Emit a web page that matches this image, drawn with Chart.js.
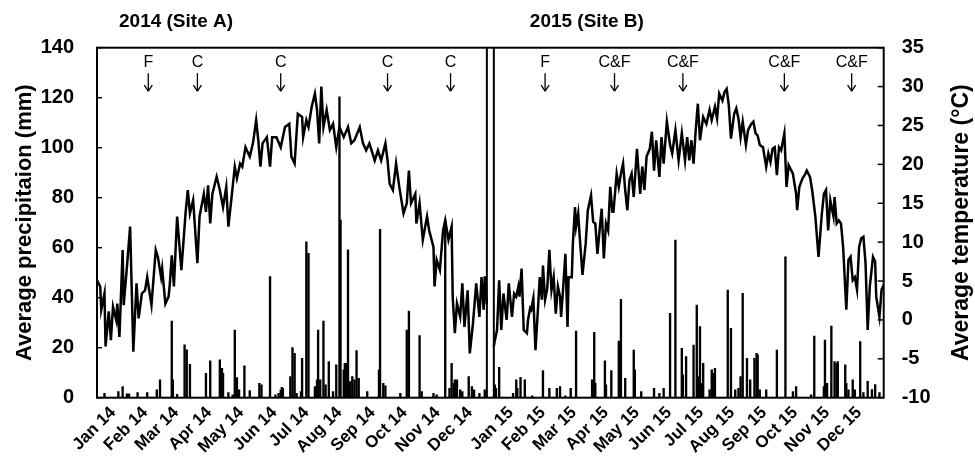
<!DOCTYPE html>
<html>
<head>
<meta charset="utf-8">
<script src="https://cdn.jsdelivr.net/npm/chart.js@4.4.1/dist/chart.umd.min.js"></script>
<style>
  html, body { margin: 0; padding: 0; background: #fff; }
</style>
</head>
<body>
<canvas id="weather" width="975" height="467"></canvas>
<script>
// daily mean temperature (°C); day = days since 1 Jan
const tempDays14 = [0,3,4,7,8,11,13,15,18,19,21,24,25,28,31,34,37,39,42,45,47,51,55,57,60,61,64,67,68,70,72,75,79,83,85,87,90,94,96,100,102,104,106,108,112,115,118,121,123,126,129,131,134,136,139,143,146,149,151,153,155,159,162,164,168,172,176,180,182,185,188,192,193,196,198,201,204,206,208,210,212,215,218,221,224,227,231,235,238,241,246,249,252,255,260,263,266,270,272,274,277,280,283,287,290,292,294,298,299,302,305,309,311,315,316,318,321,324,326,329,332,333,335,337,340,342,344,347,349,352,355,358,360,362,363,365];
const temp14 = [5.1,4.3,1.3,3.4,-3.4,1.1,-2.6,1.7,0,2.1,-2.2,9.0,1.9,6.8,12.0,-4.1,4.7,0.2,3.4,3.8,5.5,1.9,9.0,8.1,5.5,6.6,2.1,3.0,4.3,8.3,4.3,13.3,6.4,13.9,16.7,13.7,15.4,7.3,13.3,16.2,13.9,17.3,12.4,16.2,18.4,16.7,14.5,17.1,12.0,15.8,19.7,18.2,20.1,19.7,22.2,21.0,22.7,25.7,23.1,19.7,22.7,23.5,19.7,23.5,23.5,22.2,24.8,25.2,21.0,20.1,26.5,26.1,23.5,25.7,24.8,27.4,29.1,27.0,22.7,30.0,24.8,27.0,24.4,25.2,22.2,24.8,23.5,24.8,22.7,23.1,24.8,22.7,21.8,22.7,20.5,21.8,20.5,22.7,20.5,17.5,16.7,20.1,17.1,13.7,15.0,19.2,15.0,16.2,12.4,15.0,10.3,13.3,11.5,9.4,4.3,7.7,6.4,11.5,12.8,10.3,12.0,3.0,-1.7,2.1,0.4,4.7,-0.9,3.8,-4.3,-0.4,4.7,0.4,5.5,1.3,5.6,2.0];

const tempDays15 = [0,1,3,5,7,9,12,14,17,19,21,23,24,26,28,31,32,34,35,37,39,42,43,45,46,48,50,52,54,56,58,60,62,63,65,66,67,69,70,73,74,76,77,79,80,82,83,86,88,91,93,95,97,99,101,103,105,107,109,111,112,115,117,119,121,123,125,127,129,131,134,137,139,141,143,146,148,150,152,155,157,159,162,165,167,170,173,176,179,181,183,185,187,189,191,193,196,199,202,204,207,209,211,214,216,218,220,222,225,227,229,231,233,236,238,241,243,245,247,249,252,255,257,259,261,263,265,267,269,272,274,276,280,283,284,286,289,291,293,296,298,301,304,307,309,311,313,315,318,319,321,323,325,327,330,332,334,336,338,340,342,344,346,348,350,352,355,357,358,361,363,365];
const temp15 = [-3.4,-2.6,-1.3,5.1,-1.3,3.4,0,4.7,0.4,3.4,3.0,4.3,3.0,6.6,-1.3,-1.7,0,1.5,1.3,2.8,-3.9,3.0,5.5,2.6,7.0,2.6,4.0,9.0,3.8,5.5,0.8,4.3,3.0,0.4,4.3,6.4,8.5,-0.9,5.5,5.5,9.8,14.5,12.0,13.7,11.5,7.7,5.8,9.8,14.1,16.0,12.6,12.4,8.5,11.5,14.3,7.9,12.4,11.5,17.1,13.9,13.9,18.8,17.1,18.8,20.1,16.7,14.1,18.0,18.8,15.8,22.0,16.2,19.7,16.7,21.0,22.0,24.2,19.2,23.1,18.4,23.5,20.1,25.5,22.5,21.4,24.4,20.5,24.0,20.5,23.5,20.5,23.1,20.1,24.4,27.8,23.1,26.1,25.2,27.0,25.7,27.4,25.9,29.1,28.2,29.3,29.7,27.6,23.3,26.5,27.2,25.9,23.5,25.5,22.5,24.4,25.2,25.5,24.0,23.7,22.5,22.2,19.7,21.4,20.3,22.0,22.2,18.6,22.2,21.8,24.0,17.1,19.9,18.8,16.2,14.1,17.1,18.2,18.6,19.2,18.4,16.7,13.3,8.1,13.5,16.2,16.7,11.5,15.4,13.3,15.8,12.4,12.8,12.4,9.4,1.3,7.7,8.1,5.1,5.5,3.9,9.4,10.5,10.7,7.3,-1.3,4.3,8.1,7.5,3.0,0.4,3.9,4.5];

// daily precipitation (mm)
const rainDays14 = [7,20,24,28,30,38,47,56,59,70,71,75,82,84,87,102,106,115,117,118,123,127,129,131,133,138,143,152,154,162,167,170,172,173,174,181,183,185,187,191,192,196,198,204,206,207,209,212,214,217,221,224,227,228,231,232,234,235,237,239,241,243,245,253,264,265,268,270,284,290,292,302,304,315,318,326,330,332,334,335,337,340,342,348,351,353,358,363];
const rain14 = [1.7,2.4,4.4,1.5,1.5,2.0,2.0,3.1,7.1,30.6,7.1,1.3,21.1,19.1,13.3,9.7,14.7,15.1,11.7,9.7,2.0,1.1,27.0,8.0,3.1,12.7,2.8,5.7,5.1,48.4,1.1,1.7,3.0,4.1,3.7,8.4,20.0,17.7,1.7,2.4,15.7,62.3,57.7,4.4,7.1,27.0,7.1,30.6,5.1,14.4,2.4,13.1,120.3,71.0,11.1,13.7,13.7,59.1,6.4,8.4,7.1,18.8,7.7,2.4,11.1,67.3,5.7,4.7,1.7,27.0,34.6,24.8,2.4,1.7,1.1,71.0,3.7,13.7,5.7,7.1,7.1,3.1,2.4,8.4,4.4,3.1,1.7,3.1];

const rainDays15 = [1,2,5,18,21,22,25,29,36,46,52,59,62,67,72,77,92,94,95,104,105,110,117,119,123,131,132,138,150,155,159,165,170,176,177,180,187,190,191,193,194,196,202,204,205,207,219,222,226,229,231,233,237,240,244,246,247,249,255,265,273,280,283,297,300,309,310,312,316,319,321,322,329,330,332,336,338,343,346,350,354,357,361];
const rain15 = [5.1,3.7,12.1,1.7,7.1,3.7,8.1,7.1,0.7,10.8,3.7,3.7,4.4,0.7,3.7,26.6,7.1,26.1,5.7,14.7,5.1,10.8,22.6,39.3,7.7,19.0,11.1,2.4,3.7,1.7,3.7,33.7,63.0,19.7,9.1,16.4,21.0,37.0,8.4,28.4,5.7,13.7,3.1,11.1,9.7,11.7,43.0,27.7,3.1,3.7,8.4,41.7,15.7,7.1,15.7,17.7,17.1,3.1,3.1,19.0,56.3,2.4,4.4,1.1,24.6,4.4,23.0,5.7,28.6,14.4,13.7,14.4,13.1,5.7,3.1,7.1,3.1,22.4,2.0,6.5,3.2,5.2,2.0];

// management events (F = fertiliser, C = cutting)
const eventDays14 = [48, 94, 172, 272, 331];
const eventLabels14 = ['F', 'C', 'C', 'C', 'C'];
const eventDays15 = [48, 113, 177, 272, 335];
const eventLabels15 = ['F', 'C&F', 'C&F', 'C&F', 'C&F'];

// month tick labels, placed where the figure puts them
const tickDays14 = [15, 45, 74, 105, 135, 166, 196, 227, 258, 288, 319, 349];
const tickDays15 = [16, 46, 75, 105, 134, 164, 194, 223, 253, 282, 312, 342];
const monthLabels14 = ['Jan 14','Feb 14','Mar 14','Apr 14','May 14','Jun 14','Jul 14','Aug 14','Sep 14','Oct 14','Nov 14','Dec 14'];
const monthLabels15 = ['Jan 15','Feb 15','Mar 15','Apr 15','May 15','Jun 15','Jul 15','Aug 15','Sep 15','Oct 15','Nov 15','Dec 15'];

const GAP = 6.5;              // days of blank space between the two panels
const OFF15 = 365 + GAP;      // where 2015 starts on the shared x axis
const X_MAX = OFF15 + 365;
const FONT = '"Liberation Sans", Arial, Helvetica, sans-serif';

const tickValues = tickDays14.concat(tickDays15.map(d => d + OFF15));
const tickText = monthLabels14.concat(monthLabels15);

const pts = (days, vals, off) => days.map((d, i) => ({ x: d + off, y: vals[i] }));

const decorPlugin = {
  id: 'decor',
  afterDatasetsDraw(chart) {
    const { ctx, chartArea: a, scales: { x, yP, yT } } = chart;
    const line = (x1, y1, x2, y2) => { ctx.beginPath(); ctx.moveTo(x1, y1); ctx.lineTo(x2, y2); ctx.stroke(); };
    ctx.save();
    ctx.strokeStyle = '#000';
    ctx.fillStyle = '#000';
    ctx.lineWidth = 2;
    ctx.strokeRect(a.left, a.top, a.right - a.left, a.bottom - a.top);
    // double line between the years
    [365, OFF15].forEach(d => {
      const px = x.getPixelForValue(d);
      line(px, a.top, px, a.bottom);
    });
    // inward tick marks
    ctx.lineWidth = 1.5;
    yP.ticks.forEach(t => { const py = yP.getPixelForValue(t.value); line(a.left, py, a.left + 5, py); });
    yT.ticks.forEach(t => { const py = yT.getPixelForValue(t.value); line(a.right - 6, py, a.right, py); });

    // event markers
    ctx.font = '16px ' + FONT;
    ctx.textAlign = 'center';
    ctx.textBaseline = 'middle';
    ctx.lineWidth = 1.3;
    const drawEvents = (days, labels, off) => {
      days.forEach((d, i) => {
        const px = x.getPixelForValue(d + off);
        ctx.fillText(labels[i], px, yP.getPixelForValue(134));
        const y1 = yP.getPixelForValue(129.8), y2 = yP.getPixelForValue(122.6);
        line(px, y1, px, y2);
        line(px - 4, y2 - 6, px, y2);
        line(px + 4, y2 - 6, px, y2);
      });
    };
    drawEvents(eventDays14, eventLabels14, 0);
    drawEvents(eventDays15, eventLabels15, OFF15);

    // panel titles
    ctx.font = 'bold 19px ' + FONT;
    ctx.textAlign = 'left';
    ctx.fillText('2014 (Site A)', a.left + 22, 22);
    ctx.fillText('2015 (Site B)', x.getPixelForValue(OFF15) + 36, 22);

    // right axis title, read bottom to top like the left one
    ctx.font = 'bold 23px ' + FONT;
    ctx.translate(962, (a.top + a.bottom) / 2);
    ctx.rotate(-Math.PI / 2);
    ctx.textAlign = 'center';
    ctx.fillText('Average temperature (°C)', 0, 0);
    ctx.restore();
  }
};

new Chart(document.getElementById('weather'), {
  type: 'bar',
  data: {
    datasets: [
      { type: 'line', data: pts(tempDays14, temp14, 0), yAxisID: 'yT', borderColor: '#000', borderWidth: 2.5, pointRadius: 0, order: 0 },
      { type: 'line', data: pts(tempDays15, temp15, OFF15), yAxisID: 'yT', borderColor: '#000', borderWidth: 2.5, pointRadius: 0, order: 0 },
      { type: 'bar', data: pts(rainDays14, rain14, 0).concat(pts(rainDays15, rain15, OFF15)), yAxisID: 'yP',
        backgroundColor: '#000', barThickness: 1.7, grouped: false, order: 1 }
    ]
  },
  options: {
    responsive: false,
    animation: false,
    devicePixelRatio: 1,
    layout: { padding: { top: 47.7, left: 0, right: 0, bottom: 0 } },
    plugins: { legend: { display: false }, tooltip: { enabled: false } },
    scales: {
      x: {
        type: 'linear', min: 0, max: X_MAX, offset: false,
        grid: { display: false, drawTicks: false },
        border: { display: false },
        afterBuildTicks: s => { s.ticks = tickValues.map(v => ({ value: v })); },
        afterFit: s => { s.height = 69.3; },
        ticks: {
          autoSkip: false, minRotation: 45, maxRotation: 45, padding: 5, color: '#000',
          font: { family: FONT, size: 17, weight: 'bold' },
          callback: v => tickText[tickValues.indexOf(v)]
        }
      },
      yP: {
        position: 'left', min: 0, max: 140,
        grid: { display: false, drawTicks: false },
        border: { display: false },
        afterFit: s => { s.width = 97; },
        ticks: { stepSize: 20, padding: 23, color: '#000', font: { family: FONT, size: 20, weight: 'bold' } },
        title: { display: true, text: 'Average precipitaion (mm)', color: '#000', padding: { top: 12 },
                 font: { family: FONT, size: 22, weight: 'bold' } }
      },
      yT: {
        position: 'right', min: -10, max: 35,
        grid: { display: false, drawTicks: false },
        border: { display: false },
        afterFit: s => { s.width = 91.3; },
        ticks: { stepSize: 5, padding: 18, color: '#000', font: { family: FONT, size: 20, weight: 'bold' } }
      }
    }
  },
  plugins: [decorPlugin]
});
</script>
</body>
</html>
